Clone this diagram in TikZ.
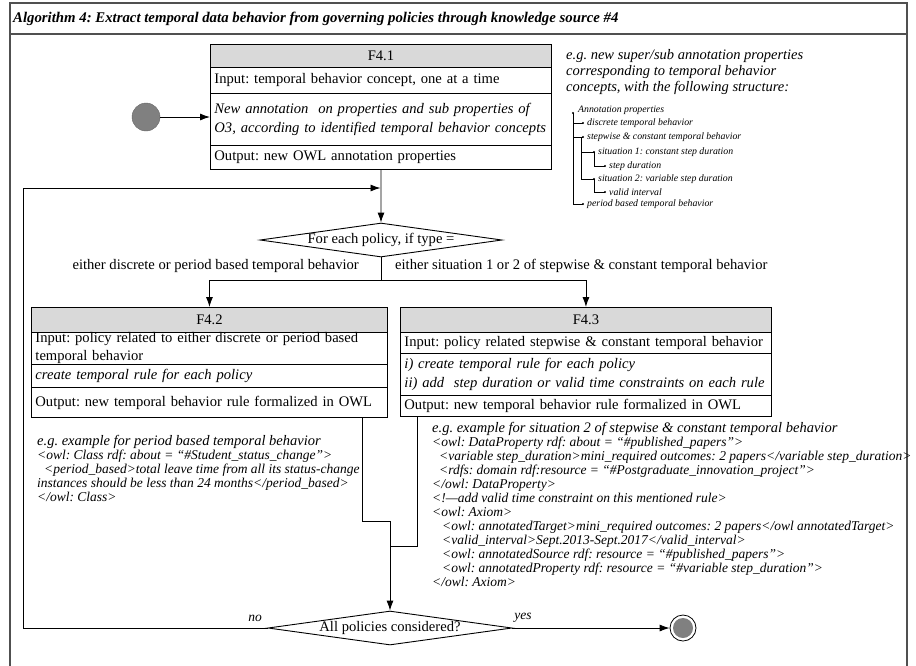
\documentclass[tikz,border=0pt]{standalone}
\usepackage{fontspec}
\setmainfont{Liberation Serif}
\usetikzlibrary{shapes.geometric,arrows.meta}
\definecolor{hdr}{HTML}{D9D9D9}
\definecolor{framec}{HTML}{505050}
\definecolor{dotc}{HTML}{808080}
\frenchspacing
\newcommand{\egfont}{\fontsize{14.5}{14}\selectfont}
\begin{document}
\begin{tikzpicture}[x=1pt,y=-1pt,
  boxfont/.style={font=\fontsize{14.6}{18}\selectfont},
  rowbox/.style={draw=black, line width=0.9pt, rectangle, inner xsep=4pt, inner ysep=0pt, anchor=north west, align=left, boxfont},
  hdrbox/.style={rowbox, fill=hdr, align=center},
  itrow/.style={rowbox, font=\fontsize{14.6}{19}\selectfont\itshape},
  exfont/.style={font=\fontsize{13.5}{14}\selectfont\itshape, anchor=north west, align=left, inner sep=0pt},
  treefont/.style={font=\fontsize{9.8}{12}\selectfont\itshape, anchor=west, inner sep=0pt},
  dec/.style={draw=black, line width=0.9pt, shape=diamond, inner sep=0pt},
  arr/.style={-{Latex[length=10pt,width=7pt]}, line width=0.9pt},
  conn/.style={line width=0.9pt},
  treeline/.style={line width=0.6pt},
  tdot/.style={circle, fill=black, inner sep=0pt, minimum size=2.2pt},
]
\useasboundingbox (0,0) rectangle (916,665);
% frame and title
\draw[framec, line width=2pt] (10,670) -- (10,3) -- (907,3) -- (907,670);
\draw[framec, line width=2pt] (10,34) -- (907,34);
\node[font=\fontsize{14.8}{16}\selectfont\bfseries\itshape, anchor=west, inner sep=0pt] (title) at (13,19) {Algorithm 4: Extract temporal data behavior from governing policies through knowledge source \#4};

% F4.1
\node[hdrbox, minimum width=341, text width=333, minimum height=23] (f41h) at (210,44) {F4.1};
\node[rowbox, minimum width=341, text width=333, minimum height=26] (f41i) at (210,67) {Input: temporal behavior concept, one at a time};
\node[itrow, minimum width=341, text width=333, minimum height=52] (f41p) at (210,93) {\mbox{New annotation\ \ on properties and sub properties of}\\\mbox{O3, according to identified temporal behavior concepts}};
\node[rowbox, minimum width=341, text width=333, minimum height=24] (f41o) at (210,145) {Output: new OWL annotation properties};

% start
\node[circle, fill=dotc, draw=dotc!80!black, minimum size=28, inner sep=0pt] (start) at (146,117) {};
\draw[arr] (start.east) -- (start.east -| f41p.west);

% annotation intro and tree
\node[font=\fontsize{14.5}{16}\selectfont\itshape, anchor=north west, align=left, inner sep=0pt] (intro) at (566,49) {e.g. new super/sub annotation properties\\corresponding to temporal behavior\\concepts, with the following structure:};
\node[treefont] (t0) at (578,110) {Annotation properties};
\node[treefont] (t1) at (587,123) {discrete temporal behavior};
\node[treefont] (t2) at (587,137) {stepwise \& constant temporal behavior};
\node[treefont] (t3) at (598,152) {situation 1: constant step duration};
\node[treefont] (t4) at (609,166) {step duration};
\node[treefont] (t5) at (598,179) {situation 2: variable step duration};
\node[treefont] (t6) at (609,192) {valid interval};
\node[treefont] (t7) at (587,204) {period based temporal behavior};
\coordinate (r0) at (573,113);
\coordinate (r1) at (583,123);
\coordinate (r2) at (583,137);
\coordinate (r7) at (583,204);
\coordinate (s3) at (594,152);
\coordinate (s5) at (594,179);
\coordinate (u4) at (605,166);
\coordinate (u6) at (605,192);
\draw[treeline] (r0) -- (r0 |- r7) -- (r7);
\draw[treeline] (r0 |- r1) -- (r1);
\draw[treeline] (r0 |- r2) -- (r2);
\draw[treeline] ([xshift=-1.5pt]r2) -- ([xshift=-1.5pt]r2 |- s5) -- (s5);
\draw[treeline] ([xshift=-1.5pt]r2 |- s3) -- (s3);
\draw[treeline] (s3) -- (s3 |- u4) -- (u4);
\draw[treeline] (s5) -- (s5 |- u6) -- (u6);
\foreach \p in {r0,r1,r2,r7,s3,s5,u4,u6} \node[tdot] at (\p) {};

% decision 1
\node[dec, minimum width=242, minimum height=34] (d1) at (381,240) {};
\node[boxfont, inner sep=0pt] (d1t) at (d1.center) {For each policy, if type =};
\draw[arr] (f41o.south) -- (d1.north);
\coordinate (br) at (381,280);
\draw[conn] (d1.south) -- (br);
\node[boxfont, anchor=east, inner sep=0pt] (lbl1) at (359,266) {either discrete or period based temporal behavior};
\node[boxfont, anchor=west, inner sep=0pt] (lbl2) at (395,266) {either situation 1 or 2 of stepwise \& constant temporal behavior};

% F4.2
\node[hdrbox, minimum width=356, text width=348, minimum height=25] (f42h) at (31,307) {F4.2};
\node[rowbox, minimum width=356, text width=348, minimum height=32] (f42i) at (31,332) {Input: policy related to either discrete or period based\\temporal behavior};
\node[itrow, minimum width=356, text width=348, minimum height=23] (f42p) at (31,364) {create temporal rule for each policy};
\node[rowbox, minimum width=356, text width=348, minimum height=30] (f42o) at (31,387) {\mbox{Output: new temporal behavior rule formalized in OWL}};

% F4.3
\node[hdrbox, minimum width=371, text width=363, minimum height=25] (f43h) at (400,307) {F4.3};
\node[rowbox, minimum width=371, text width=363, minimum height=21] (f43i) at (400,332) {\mbox{Input: policy related stepwise \& constant temporal behavior}};
\node[itrow, minimum width=371, text width=363, minimum height=42] (f43p) at (400,353) {i) create temporal rule for each policy\\\mbox{ii) add\ \ step duration or valid time constraints on each rule}};
\node[rowbox, minimum width=371, text width=363, minimum height=21] (f43o) at (400,395) {\mbox{Output: new temporal behavior rule formalized in OWL}};

\draw[arr] (br) -| (f42h.north);
\draw[arr] (br) -| (f43h.north);

% examples
\node[exfont] (ex1) at (37,435) {{\egfont e.g. example for period based temporal behavior}\\<owl: Class rdf: about = “\#Student\_status\_change”>\\\hspace*{7pt}<period\_based>total leave time from all its status-change\\instances should be less than 24 months</period\_based>\\</owl: Class>};
\node[exfont] (ex2) at (432,422) {{\egfont e.g. example for situation 2 of stepwise \& constant temporal behavior}\\<owl: DataProperty rdf: about = “\#published\_papers”>\\\hspace*{7pt}<variable step\_duration>mini\_required outcomes: 2 papers</variable step\_duration>\\\hspace*{7pt}<rdfs: domain rdf:resource = “\#Postgraduate\_innovation\_project”>\\</owl: DataProperty>\\<!—add valid time constraint on this mentioned rule>\\<owl: Axiom>\\\hspace*{10pt}<owl: annotatedTarget>mini\_required outcomes: 2 papers</owl annotatedTarget>\\\hspace*{10pt}<valid\_interval>Sept.2013-Sept.2017</valid\_interval>\\\hspace*{10pt}<owl: annotatedSource rdf: resource = “\#published\_papers”>\\\hspace*{10pt}<owl: annotatedProperty rdf: resource = “\#variable step\_duration”>\\</owl: Axiom>};

% decision 2
\node[dec, minimum width=244, minimum height=34] (d2) at (390,628) {};
\node[boxfont, inner sep=0pt] (d2t) at (d2.center) {All policies considered?};
\coordinate (m1) at (362,521);
\coordinate (mj) at (390,521);
\coordinate (m2) at (417,546);
\draw[conn] (f42o.south -| m1) -- (m1) -- (mj);
\draw[conn] (f43o.south -| m2) -- (m2) -- (m2 -| mj);
\draw[arr] (mj) -- (d2.north);

% end
\node[circle, draw=black, line width=0.8pt, fill=white, minimum size=26, inner sep=0pt] (end) at (683,628) {};
\node[circle, fill=dotc, minimum size=20, inner sep=0pt] (endin) at (end.center) {};
\draw[arr] (d2.east) -- (end.west);
\node[font=\fontsize{13.5}{14}\selectfont\itshape, inner sep=0pt] (yes) at (523,618) {yes};
\node[font=\fontsize{13.5}{14}\selectfont\itshape, inner sep=0pt] (no) at (255,618) {no};

% loop back
\coordinate (lx) at (23,0);
\coordinate (lp) at (380.5,188);
\draw[arr] (d2.west) -- (d2.west -| lx) -- (lx |- lp) -- (lp);
\end{tikzpicture}
\end{document}
